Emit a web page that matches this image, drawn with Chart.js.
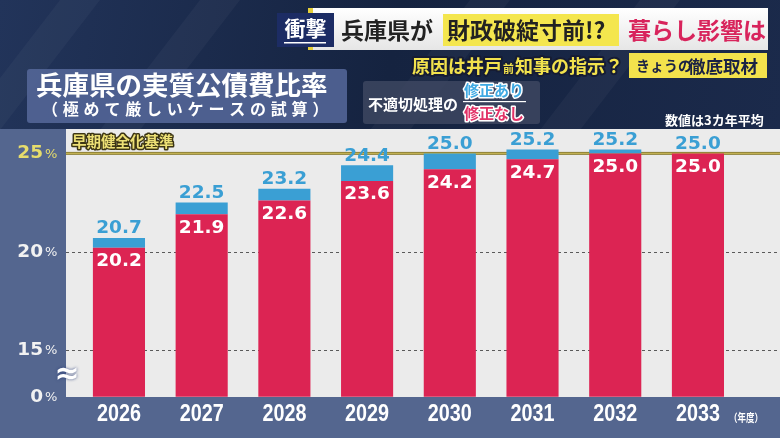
<!DOCTYPE html>
<html>
<head>
<meta charset="utf-8">
<script src="https://cdn.jsdelivr.net/npm/chart.js@4.4.1/dist/chart.umd.min.js"></script>
<style>
  html, body { margin: 0; padding: 0; background: #17264a; }
  canvas { display: block; }
</style>
</head>
<body>
<canvas id="chart" width="780" height="438"></canvas>
<script>
// 兵庫県の実質公債費比率（3カ年平均）
const years = ['2026', '2027', '2028', '2029', '2030', '2031', '2032', '2033'];
const withoutFix = [20.2, 21.9, 22.6, 23.6, 24.2, 24.7, 25.0, 25.0]; // 修正なし
const withFix = [20.7, 22.5, 23.2, 24.4, 25.0, 25.2, 25.2, 25.0];    // 修正あり
const yTicks = [15, 20, 25];
const yTickLabels = ['15', '20', '25'];
const breakLabel = '0';      // axis is broken below 15%
const yBottom = 12.63;       // value sitting on the 0% baseline
const yTop = 26.24;
const threshold = 25;        // 早期健全化基準

const CJK = '"Noto Sans CJK JP", sans-serif';
const NUM = '"DejaVu Sans", sans-serif';
const NARROW = '"Liberation Sans Narrow", "Liberation Sans", sans-serif';

const RED = '#dc2453';
const BLUE = '#3a9fd4';

function outlined(ctx, text, x, y, fill, stroke, lw) {
  ctx.lineJoin = 'round';
  ctx.lineWidth = lw;
  ctx.strokeStyle = stroke;
  ctx.strokeText(text, x, y);
  ctx.fillStyle = fill;
  ctx.fillText(text, x, y);
}

// centred text squeezed to a given width (condensed look)
function squeezed(ctx, text, cx, cy, width) {
  const w = ctx.measureText(text).width;
  const sx = Math.min(1, width / w);
  ctx.save();
  ctx.translate(cx, cy);
  ctx.scale(sx, 1);
  ctx.fillText(text, 0, 0);
  ctx.restore();
}

const background = {
  id: 'background',
  beforeDraw(chart) {
    const ctx = chart.ctx;
    ctx.save();
    const g = ctx.createLinearGradient(0, 0, 780, 130);
    g.addColorStop(0, '#22345a');
    g.addColorStop(0.5, '#152340');
    g.addColorStop(1, '#1b2a4b');
    ctx.fillStyle = g;
    ctx.fillRect(0, 0, 780, 438);
    // faint diagonal streaks
    ctx.fillStyle = 'rgba(255,255,255,0.035)';
    [60, 200, 470, 640].forEach(sx => {
      ctx.beginPath();
      ctx.moveTo(sx, 0);
      ctx.lineTo(sx + 40, 0);
      ctx.lineTo(sx - 60, 130);
      ctx.lineTo(sx - 100, 130);
      ctx.closePath();
      ctx.fill();
    });

    // plot panel and strips
    ctx.fillStyle = '#ebebeb';
    ctx.fillRect(66, 129, 714, 268);
    ctx.fillStyle = '#54668f';
    ctx.fillRect(0, 129, 66, 309);
    ctx.fillRect(0, 397, 780, 41);

    // headline banner
    const bg = ctx.createLinearGradient(0, 8, 0, 50);
    bg.addColorStop(0, '#ffffff');
    bg.addColorStop(1, '#e6e6e6');
    ctx.fillStyle = bg;
    ctx.fillRect(308, 8, 460, 42);
    ctx.fillStyle = '#e5cf3a';
    ctx.fillRect(308, 8, 5, 6);
    ctx.fillRect(308, 44, 5, 6);
    ctx.fillStyle = '#1c2c64';
    ctx.fillRect(277, 13, 57, 34);
    ctx.fillStyle = '#ffffff';
    ctx.fillRect(284, 42, 42, 1.5);
    ctx.textBaseline = 'middle';
    ctx.textAlign = 'center';
    ctx.font = 'bold 21px ' + CJK;
    ctx.fillText('衝撃', 305.5, 28);
    ctx.textAlign = 'left';
    ctx.font = 'bold 23px ' + CJK;
    ctx.fillStyle = '#222222';
    ctx.fillText('兵庫県が', 341, 30);
    ctx.fillStyle = '#f4e64e';
    ctx.fillRect(443, 14, 176, 32);
    ctx.fillStyle = '#222222';
    ctx.fillText('財政破綻寸前!?', 447, 30);
    ctx.fillStyle = '#d8245c';
    ctx.fillText('暮らし影響は', 628, 30);

    // sub headline
    ctx.font = 'bold 18px ' + CJK;
    outlined(ctx, '原因は井戸', 412, 66, '#f2e24d', '#161c33', 4);
    ctx.font = 'bold 11px ' + CJK;
    outlined(ctx, '前', 503, 69, '#f2e24d', '#161c33', 3);
    ctx.font = 'bold 18px ' + CJK;
    outlined(ctx, '知事の指示？', 515, 66, '#f2e24d', '#161c33', 4);
    ctx.fillStyle = '#f3e24c';
    ctx.fillRect(629, 53, 138, 25);
    ctx.fillStyle = '#1a2244';
    ctx.font = 'bold 14px ' + CJK;
    ctx.fillText('きょうの', 636, 66);
    ctx.font = 'bold 17.5px ' + CJK;
    ctx.fillText('徹底取材', 688, 66);

    // chart title
    ctx.fillStyle = 'rgba(84,103,152,0.88)';
    ctx.beginPath();
    ctx.roundRect(27, 69, 320, 54, 3);
    ctx.fill();
    ctx.fillStyle = '#ffffff';
    ctx.font = 'bold 26.5px ' + CJK;
    ctx.fillText('兵庫県の実質公債費比率', 36, 84.5);
    ctx.font = 'bold 16px ' + CJK;
    ctx.letterSpacing = '4.8px';
    ctx.fillText('（極めて厳しいケースの試算）', 42, 109);
    ctx.letterSpacing = '0px';

    // legend
    ctx.fillStyle = 'rgba(62,72,98,0.82)';
    ctx.beginPath();
    ctx.roundRect(363, 81, 177, 43, 3);
    ctx.fill();
    ctx.fillStyle = '#ffffff';
    ctx.font = 'bold 15px ' + CJK;
    ctx.fillText('不適切処理の', 368, 104);
    outlined(ctx, '修正あり', 464, 90, '#3fa9e3', '#ffffff', 3);
    outlined(ctx, '修正なし', 464, 113, '#e23368', '#ffffff', 3);
    ctx.fillStyle = '#ffffff';
    ctx.fillRect(463, 101, 63, 1.2);

    ctx.font = 'bold 13px ' + CJK;
    ctx.fillStyle = '#ffffff';
    ctx.fillText('数値は3カ年平均', 665, 120);
    ctx.restore();
  },
  beforeDatasetsDraw(chart) {
    const ctx = chart.ctx;
    const y = chart.scales.y;
    ctx.save();
    ctx.strokeStyle = '#5a5a5a';
    ctx.lineWidth = 1;
    ctx.setLineDash([3, 3]);
    yTicks.filter(v => v !== threshold).forEach(v => {
      const py = Math.round(y.getPixelForValue(v)) + 0.5;
      ctx.beginPath();
      ctx.moveTo(66, py);
      ctx.lineTo(780, py);
      ctx.stroke();
    });
    ctx.setLineDash([]);
    const ty = y.getPixelForValue(threshold);
    ctx.fillStyle = '#8f8238';
    ctx.fillRect(66, ty - 1.5, 714, 3);
    ctx.fillStyle = '#c8b656';
    ctx.fillRect(66, ty - 0.5, 714, 1);
    ctx.restore();
  },
  afterDatasetsDraw(chart) {
    const ctx = chart.ctx;
    const x = chart.scales.x;
    const y = chart.scales.y;
    ctx.save();
    ctx.textAlign = 'center';
    ctx.textBaseline = 'alphabetic';
    ctx.font = 'bold 18.5px ' + NUM;
    years.forEach((yr, i) => {
      const cx = x.getPixelForValue(i);
      ctx.fillStyle = BLUE;
      ctx.fillText(withFix[i].toFixed(1), cx, y.getPixelForValue(withFix[i]) - 4.5);
      ctx.fillStyle = '#ffffff';
      ctx.fillText(withoutFix[i].toFixed(1), cx, y.getPixelForValue(withoutFix[i]) + 18.5);
    });

    // year labels
    ctx.textBaseline = 'middle';
    ctx.font = 'bold 24px ' + NARROW;
    ctx.fillStyle = '#ffffff';
    years.forEach((yr, i) => squeezed(ctx, yr, x.getPixelForValue(i), 414, 44));
    ctx.font = 'bold 11px ' + CJK;
    squeezed(ctx, '（年度）', 746, 418, 34);

    // y tick labels
    const ticks = [[yBottom, breakLabel, '#f2f2f2']].concat(
      yTicks.map((v, i) => [v, yTickLabels[i], v === threshold ? '#e6dc6c' : '#f2f2f2']));
    ticks.forEach(([v, label, color]) => {
      const py = y.getPixelForValue(v);
      ctx.fillStyle = color;
      ctx.textAlign = 'right';
      ctx.font = 'bold 18.5px ' + NUM;
      ctx.fillText(label, 43, py);
      ctx.textAlign = 'left';
      ctx.font = '13px ' + NUM;
      ctx.fillText('%', 45, py + 1);
    });

    // axis break mark
    ctx.textAlign = 'center';
    ctx.font = 'bold 30px ' + NUM;
    ctx.shadowColor = 'rgba(40,60,120,0.9)';
    ctx.shadowBlur = 3;
    ctx.fillStyle = '#ffffff';
    ctx.fillText('≈', 67, 375);
    ctx.shadowBlur = 0;

    // threshold caption
    ctx.textAlign = 'left';
    ctx.font = 'bold 14.5px ' + CJK;
    outlined(ctx, '早期健全化基準', 72, 141, '#ede076', '#3c3514', 3);
    ctx.restore();
  }
};

new Chart(document.getElementById('chart'), {
  type: 'bar',
  data: {
    labels: years,
    datasets: [
      {
        label: '修正なし',
        data: withoutFix,
        backgroundColor: RED,
        grouped: false,
        order: 1
      },
      {
        label: '修正あり',
        data: withFix.map((v, i) => [withoutFix[i], v]),
        backgroundColor: BLUE,
        grouped: false,
        order: 2
      }
    ]
  },
  options: {
    responsive: false,
    animation: false,
    devicePixelRatio: 1,
    layout: {
      padding: { left: 77.6, right: 40.7, top: 129, bottom: 41.3 }
    },
    datasets: {
      bar: { barPercentage: 0.63, categoryPercentage: 1 }
    },
    scales: {
      x: { display: false },
      y: { display: false, min: yBottom, max: yTop }
    },
    plugins: {
      legend: { display: false },
      tooltip: { enabled: false }
    }
  },
  plugins: [background]
});
</script>
</body>
</html>
